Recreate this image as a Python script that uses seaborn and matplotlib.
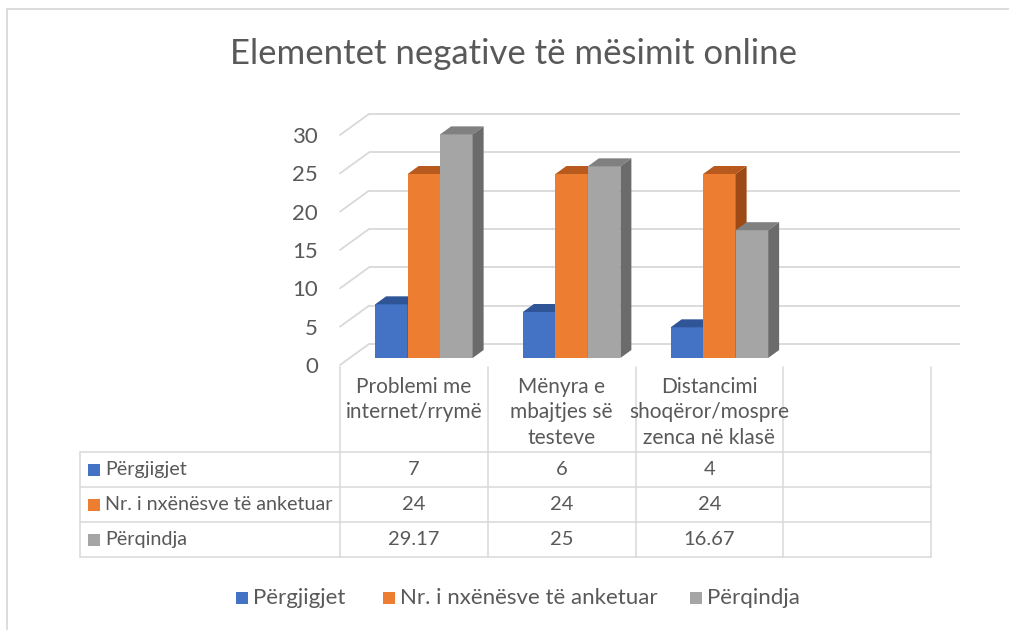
import numpy as np
import pandas as pd
import matplotlib
matplotlib.use("Agg")
import matplotlib.pyplot as plt
import seaborn as sns
from matplotlib.patches import Polygon, Rectangle

# ---------------- data ----------------
title = "Elementet negative të mësimit online"
categories = ["Problemi me\ninternet/rrymë",
              "Mënyra e\nmbajtjes së\ntesteve",
              "Distancimi\nshoqëror/mospre\nzenca në klasë"]
series_names = ["Përgjigjet", "Nr. i nxënësve të anketuar", "Përqindja"]
pergjigjet = [7, 6, 4]
nr_nxenesve = [24, 24, 24]
perqindja = [29.17, 25, 16.67]
y_ticks = [0, 5, 10, 15, 20, 25, 30]

# ---------------- style ----------------
colors = ["#4472C4", "#ED7D31", "#A5A5A5"]
top_colors = ["#2F5597", "#B85A1E", "#808080"]
side_colors = ["#2A4C88", "#9E4A16", "#6B6B6B"]
text_color = "#595959"
grid_color = "#D9D9D9"

sns.set_theme(style="white")
plt.rcParams["font.family"] = ["Lato", "DejaVu Sans"]

W, H = 1009, 630
fig = plt.figure(figsize=(W / 100, H / 100), dpi=100)

# long-format frame
values = [pergjigjet, nr_nxenesve, perqindja]
rows = []
for s, vals in zip(series_names, values):
    for c, v in zip(categories, vals):
        rows.append({"cat": c, "series": s, "val": v})
df = pd.DataFrame(rows)

# main (bar plane) axes, in pixel layout
ax_l, ax_r, ax_b, ax_t = 350, 941, 358, 128
ax = fig.add_axes([ax_l / W, (H - ax_b) / H, (ax_r - ax_l) / W, (ax_b - ax_t) / H])
sns.barplot(data=df, x="cat", y="val", hue="series", order=categories,
            hue_order=series_names, palette=colors, width=0.66, dodge=True,
            saturation=1, errorbar=None, legend=False, linewidth=0, ax=ax)
n_slots = len(categories) + 1
ax.set_xlim(-0.5, n_slots - 0.5)
ax.set_ylim(0, 30)
ax.set_axis_off()

px_x = (ax_r - ax_l) / n_slots          # pixels per x unit
px_y = (ax_b - ax_t) / 30.0             # pixels per y unit


def off(dxp, dyp):
    return dxp / px_x, dyp / px_y


# bar depth, front plane, back wall offsets (pixels)
ddx, ddy = off(11, 8)
fdx, fdy = off(-10, -7)
bdx, bdy = off(19, 14)

# back wall gridlines and left wall diagonals
for v in y_ticks:
    ax.plot([-0.5 + bdx, n_slots - 0.5 + bdx], [v + bdy, v + bdy],
            color=grid_color, lw=1.3, clip_on=False, zorder=1, solid_capstyle="butt")
    ax.plot([-0.5 + fdx, -0.5 + bdx], [v + fdy, v + bdy],
            color=grid_color, lw=1.3, clip_on=False, zorder=1)
    lx, _ = off(-22, 0)
    _, ly = off(0, -2)
    ax.text(-0.5 + fdx + lx, v + fdy + ly, str(v), ha="right", va="center",
            fontsize=16, color=text_color, clip_on=False)

# 3D faces on bars
for i, cont in enumerate(ax.containers):
    for bar in cont:
        x0, w, h = bar.get_x(), bar.get_width(), bar.get_height()
        if np.isnan(h):
            continue
        bar.set_zorder(3 + i)
        bar.set_clip_on(False)
        top = Polygon([(x0, h), (x0 + w, h), (x0 + w + ddx, h + ddy), (x0 + ddx, h + ddy)],
                      closed=True, facecolor=top_colors[i], edgecolor="none",
                      zorder=3 + i, clip_on=False)
        side = Polygon([(x0 + w, 0), (x0 + w + ddx, ddy), (x0 + w + ddx, h + ddy), (x0 + w, h)],
                       closed=True, facecolor=side_colors[i], edgecolor="none",
                       zorder=3 + i, clip_on=False)
        ax.add_patch(top)
        ax.add_patch(side)

# overlay axes in image-pixel coordinates for frame, title, table, legend
ov = fig.add_axes([0, 0, 1, 1], zorder=-1)
ov.set_xlim(0, W)
ov.set_ylim(H, 0)
ov.set_axis_off()
ov.patch.set_alpha(0)

# chart border (top and left visible)
ov.plot([7, W], [9, 9], color=grid_color, lw=1.3)
ov.plot([7, 7], [9, H], color=grid_color, lw=1.3)

# title
ov.text(514, 64, title, ha="center", va="baseline", fontsize=25,
        color=text_color)

# data table
col_x0 = 340
col_w = px_x
label_left = 80
row_tops = [367, 452, 487, 522, 557]
n_cols = n_slots
xs = [col_x0 + col_w * k for k in range(n_cols + 1)]
for x in xs:
    ov.plot([x, x], [row_tops[0], row_tops[-1]], color=grid_color, lw=1.1)
ov.plot([label_left, label_left], [row_tops[1], row_tops[-1]], color=grid_color, lw=1.1)
for y in row_tops[1:]:
    ov.plot([label_left, xs[-1]], [y, y], color=grid_color, lw=1.1)

for k, c in enumerate(categories):
    cx = (xs[k] + xs[k + 1]) / 2
    ov.text(cx, 377, c, ha="center", va="top", fontsize=15, color=text_color,
            linespacing=1.33)

for r, (s, vals) in enumerate(zip(series_names, values)):
    y0, y1 = row_tops[r + 1], row_tops[r + 2]
    yc = (y0 + y1) / 2
    ov.add_patch(Rectangle((88, yc - 6), 12, 12, facecolor=colors[r], edgecolor="none"))
    ov.text(105, yc, s, ha="left", va="center", fontsize=14.2, color=text_color)
    for k, v in enumerate(vals):
        cx = (xs[k] + xs[k + 1]) / 2
        ov.text(cx, yc, f"{v:g}", ha="center", va="center", fontsize=14.5, color=text_color)

# legend
leg_sq_x = [236, 383, 690]
for r, s in enumerate(series_names):
    ov.add_patch(Rectangle((leg_sq_x[r], 592), 12, 12, facecolor=colors[r], edgecolor="none"))
    ov.text(leg_sq_x[r] + 17, 598, s, ha="left", va="center", fontsize=16, color=text_color)

fig.savefig("out.png", dpi=100, facecolor="white")
